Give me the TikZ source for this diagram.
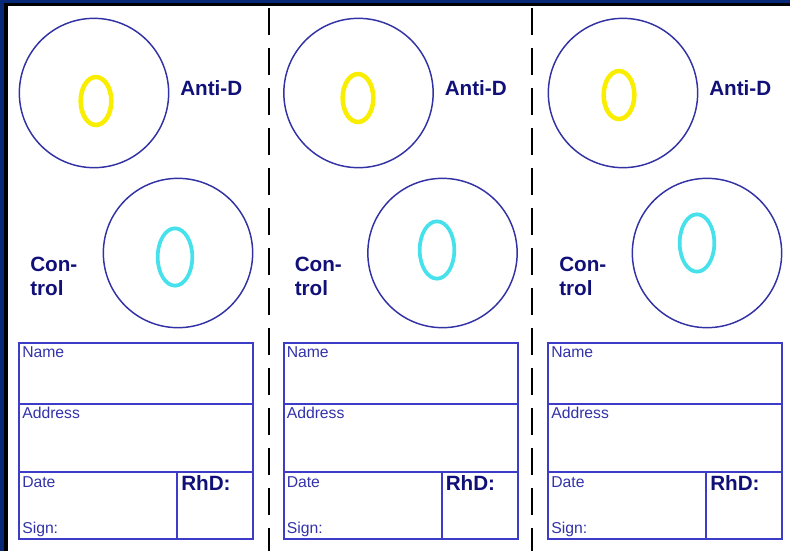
\documentclass[tikz,border=0pt]{standalone}
\usepackage{fontspec}
\setmainfont{Liberation Sans}
\usetikzlibrary{shapes.geometric}

\definecolor{labelnavy}{RGB}{16,16,120}
\definecolor{ringblue}{RGB}{50,50,165}
\definecolor{formblue}{RGB}{60,60,200}
\definecolor{formtext}{RGB}{50,50,170}
\definecolor{antiyellow}{RGB}{250,238,0}
\definecolor{ctrlcyan}{RGB}{70,225,235}
\definecolor{edgeblue}{RGB}{8,40,120}

\begin{document}
\begin{tikzpicture}[x=0.75pt,y=-0.75pt]
	\tikzstyle{well} = [circle,draw=ringblue,line width=1.1pt,minimum size=112pt,inner sep=0pt]
	\tikzstyle{agglut} = [ellipse,line width=3.4pt,inner sep=0pt]
	\tikzstyle{biglabel} = [font=\fontsize{15.5}{18}\selectfont\bfseries,text=labelnavy,inner sep=0pt]
	\tikzstyle{field} = [font=\fontsize{11.8}{14}\selectfont,text=formtext,inner sep=0pt,anchor=base west]
	\useasboundingbox (0,0) rectangle (790,551);
	% frame edges
	\fill[edgeblue] (0,0) rectangle (790,3);
	\fill[black] (0,3) rectangle (790,6);
	\fill[edgeblue] (0,0) rectangle (4,551);
	\fill[black] (4,6) rectangle (8,551);
	% cut lines
	\foreach \x in {269,532}
		\draw[black,line width=2.2pt,dash pattern=on 20pt off 10pt] (\x,8) -- (\x,551);
	% three cards
	\foreach \p/\yx/\yy/\cx/\cy in {0/96/101/175/257, 1/358/98/437/250, 2/619/95/697/243}{
		\pgfmathsetmacro{\ox}{264.5*\p}
		% anti-D well
		\node[well] (anti\p) at (\ox+94,93) {};
		\node[agglut,draw=antiyellow,minimum width=23pt,minimum height=36pt] (antiagg\p) at (\yx,\yy) {};
		\node[biglabel,anchor=west] (antilabel\p) at (\ox+180,88) {Anti-D};
		% control well
		\node[well] (ctrl\p) at (\ox+178,253) {};
		\node[agglut,draw=ctrlcyan,line width=2.8pt,minimum width=26pt,minimum height=43pt] (ctrlagg\p) at (\cx,\cy) {};
		\node[biglabel,anchor=west,align=left] (ctrllabel\p) at (\ox+30,276) {Con-\\trol};
		% form
		\draw[formblue,line width=1.5pt] (\ox+19,343) rectangle (\ox+253,539);
		\draw[formblue,line width=1.5pt] (\ox+19,404) -- (\ox+253,404);
		\draw[formblue,line width=1.5pt] (\ox+19,472) -- (\ox+253,472);
		\draw[formblue,line width=1.5pt] (\ox+177,472) -- (\ox+177,539);
		\node[field] (name\p) at (\ox+22,357) {Name};
		\node[field] (address\p) at (\ox+22,418) {Address};
		\node[field] (date\p) at (\ox+22,487) {Date};
		\node[field] (sign\p) at (\ox+22,533) {Sign:};
		\node[biglabel,anchor=base west] (rhd\p) at (\ox+181,490) {RhD:};
	}
\end{tikzpicture}
\end{document}
